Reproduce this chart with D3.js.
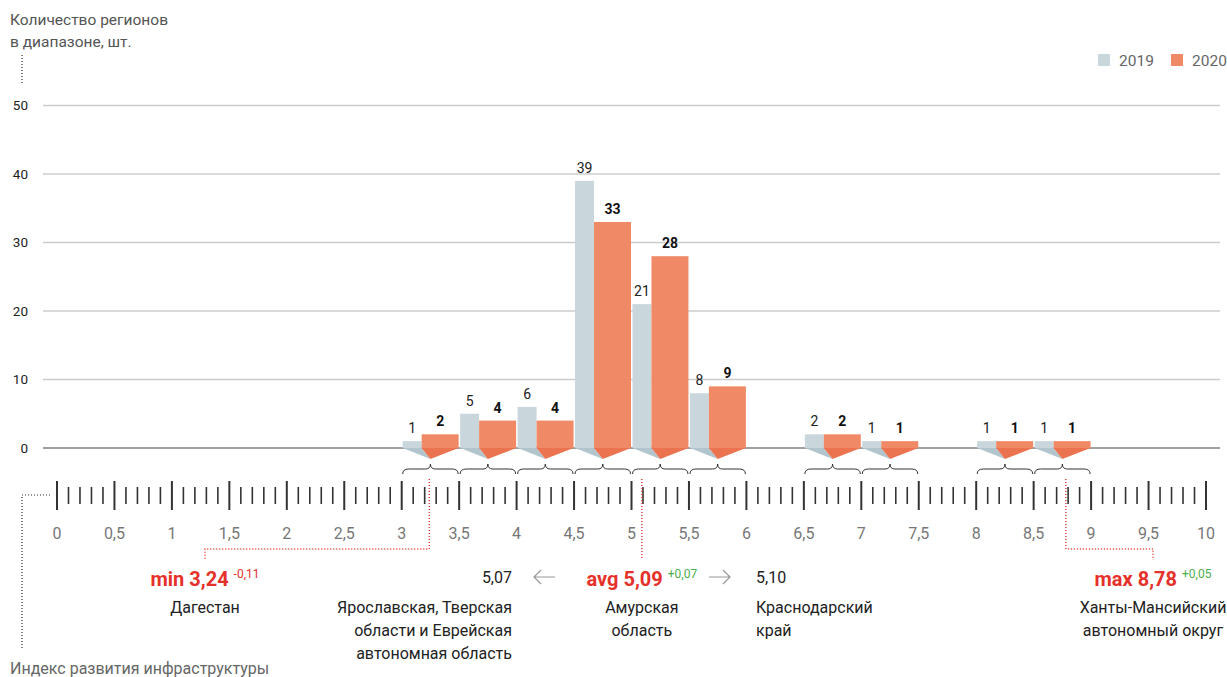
<!DOCTYPE html>
<html lang="ru">
<head>
<meta charset="utf-8">
<script src="https://cdn.jsdelivr.net/npm/d3@7/dist/d3.min.js"></script>
<style>
  html, body { margin: 0; padding: 0; background: #fff; }
  svg { display: block; font-family: Roboto, "Noto Sans", sans-serif; }
</style>
</head>
<body>
<svg id="chart" width="1227" height="677"></svg>
<script>
// Distribution of regions by infrastructure development index, 2019 vs 2020
const binStarts  = [3, 3.5, 4, 4.5, 5, 5.5, 6.5, 7, 8, 8.5];
const binSize    = 0.5;
const counts2019 = [1, 5, 6, 39, 21, 8, 2, 1, 1, 1];
const counts2020 = [2, 4, 4, 33, 28, 9, 2, 1, 1, 1];
const seriesNames = ["2019", "2020"];
const yTickValues = [0, 10, 20, 30, 40, 50];
const xLabelValues = [0, 0.5, 1, 1.5, 2, 2.5, 3, 3.5, 4, 4.5, 5, 5.5, 6, 6.5, 7, 7.5, 8, 8.5, 9, 9.5, 10];

// Highlighted regions: kind, index value, change vs previous year, region name lines
const markerKinds   = ["min", "avg", "max"];
const markerValues  = [3.24, 5.09, 8.78];
const markerChanges = ["-0,11", "+0,07", "+0,05"];
const markerRegions = [["Дагестан"], ["Амурская", "область"], ["Ханты-Мансийский", "автономный округ"]];
const neighbourValues  = ["5,07", "5,10"];
const neighbourRegions = [["Ярославская, Тверская", "области и Еврейская", "автономная область"], ["Краснодарский", "край"]];

const C = {
  c2019: "#c9d6dc", c2019dark: "#b2c5cc",
  c2020: "#f08a66", c2020dark: "#ec7350",
  grid: "#cccccc", ink: "#222", muted: "#666", red: "#e5312a", green: "#4cae4c"
};

const svg = d3.select("#chart");
const fmt = v => String(v).replace(".", ",");

const x = d3.scaleLinear().domain([0, 10]).range([57, 1206]);
const y = d3.scaleLinear().domain([0, 50]).range([448, 105.5]);

// Axis titles
svg.append("text").attr("x", 10).attr("y", 25).attr("font-size", 15.5).attr("fill", "#555").text("Количество регионов");
svg.append("text").attr("x", 10).attr("y", 47).attr("font-size", 15.5).attr("fill", "#555").text("в диапазоне, шт.");
svg.append("line").attr("x1", 22).attr("x2", 22).attr("y1", 55).attr("y2", 84)
  .attr("stroke", "#333").attr("stroke-width", 1.2).attr("stroke-dasharray", "1,2");

svg.append("text").attr("x", 10).attr("y", 674).attr("font-size", 16).attr("fill", "#666").text("Индекс развития инфраструктуры");
svg.append("path").attr("d", "M50,495 H22 V648")
  .attr("fill", "none").attr("stroke", "#333").attr("stroke-width", 1.2).attr("stroke-dasharray", "1,2");

// Legend
const legend = svg.append("g");
[[C.c2019, 1098, 1119], [C.c2020, 1171, 1192]].forEach(([col, sx, tx], i) => {
  legend.append("rect").attr("x", sx).attr("y", 54).attr("width", 12).attr("height", 12).attr("fill", col);
  legend.append("text").attr("x", tx).attr("y", 65.5).attr("font-size", 15.5).attr("fill", C.muted).text(seriesNames[i]);
});

// Horizontal grid with value labels
const gridG = svg.append("g");
yTickValues.forEach(v => {
  gridG.append("line").attr("x1", 43).attr("x2", 1220).attr("y1", y(v)).attr("y2", y(v))
    .attr("stroke", v === 0 ? "#444" : C.grid).attr("stroke-width", v === 0 ? 1.2 : 1.3);
  gridG.append("text").attr("x", 28).attr("y", y(v) + 4.5).attr("text-anchor", "end")
    .attr("font-size", 13.5).attr("fill", C.ink).text(v);
});

// Bars, the folded flaps beneath them and braces marking each bin
const bins = binStarts.map((s, i) => ({ s, e: s + binSize, a: counts2019[i], b: counts2020[i] }));
const barsG = svg.append("g");
bins.forEach(d => {
  const x0 = x(d.s), x1 = x(d.e), w = x1 - x0, xm = (x0 + x1) / 2;
  const gx0 = x0 + 1, gx1 = x0 + 1 + w * 0.33, ox1 = x1 - 0.5;
  const base = y(0), tip = base + 11;

  barsG.append("rect").attr("x", gx0).attr("y", y(d.a)).attr("width", gx1 - gx0).attr("height", base - y(d.a)).attr("fill", C.c2019);
  barsG.append("rect").attr("x", gx1).attr("y", y(d.b)).attr("width", ox1 - gx1).attr("height", base - y(d.b)).attr("fill", C.c2020);

  barsG.append("path").attr("d", `M${gx0},${base} L${gx1},${base} L${xm},${tip} Z`).attr("fill", C.c2019dark);
  barsG.append("path").attr("d", `M${gx1},${base} L${ox1},${base} L${xm},${tip} Z`).attr("fill", C.c2020dark);

  barsG.append("text").attr("x", (gx0 + gx1) / 2).attr("y", y(d.a) - 8).attr("text-anchor", "middle")
    .attr("font-size", 14).attr("fill", C.ink).text(d.a);
  barsG.append("text").attr("x", (gx1 + ox1) / 2).attr("y", y(d.b) - 8).attr("text-anchor", "middle")
    .attr("font-size", 14).attr("font-weight", 700).attr("fill", "#111").text(d.b);

  const ye = 474, yh = 469, yt = 464;
  barsG.append("path")
    .attr("d", `M${x0 + 1},${ye} Q${x0 + 1},${yh} ${x0 + 7},${yh} L${xm - 5},${yh} Q${xm},${yh} ${xm},${yt} Q${xm},${yh} ${xm + 5},${yh} L${x1 - 7},${yh} Q${x1 - 1},${yh} ${x1 - 1},${ye}`)
    .attr("fill", "none").attr("stroke", "#333").attr("stroke-width", 1);
});

// Ruler-style index axis
const ruler = svg.append("g");
d3.range(0, 101).forEach(k => {
  const v = k / 10, major = k % 5 === 0;
  ruler.append("line").attr("x1", x(v)).attr("x2", x(v))
    .attr("y1", major ? 481 : 487).attr("y2", major ? 510 : 504)
    .attr("stroke", "#333").attr("stroke-width", major ? 2 : 1.6);
});
xLabelValues.forEach(v => {
  ruler.append("text").attr("x", x(v)).attr("y", 539).attr("text-anchor", "middle")
    .attr("font-size", 16).attr("fill", "#777").text(fmt(v));
});

// Min / avg / max call-outs
const calloutCentres = [205, null, 1153];
const notes = svg.append("g");
markerKinds.forEach((kind, i) => {
  const mx = x(markerValues[i]);
  const cx = calloutCentres[i] === null ? mx : calloutCentres[i];
  const dash = { stroke: C.red, "stroke-width": 1.4, "stroke-dasharray": "1,2", fill: "none" };
  const p = notes.append("path").attr("d", cx === mx ? `M${mx},479 V560` : `M${mx},479 V549 H${cx} V560`);
  Object.entries(dash).forEach(([k, v]) => p.attr(k, v));

  const t = notes.append("text").attr("x", cx).attr("y", 586).attr("text-anchor", "middle");
  t.append("tspan").attr("font-size", 20).attr("font-weight", 700).attr("fill", C.red)
    .text(`${kind} ${fmt(markerValues[i])} `);
  t.append("tspan").attr("font-size", 12).attr("dy", -8)
    .attr("fill", markerChanges[i].startsWith("-") ? C.red : C.green).text(markerChanges[i]);

  markerRegions[i].forEach((line, j) => {
    notes.append("text").attr("x", cx).attr("y", 613 + j * 23).attr("text-anchor", "middle")
      .attr("font-size", 16).attr("fill", C.ink).text(line);
  });
});

// Neighbours of the average: value just below and just above
const nbX = [512, 756];
const nbAnchor = ["end", "start"];
neighbourValues.forEach((val, i) => {
  notes.append("text").attr("x", nbX[i]).attr("y", 583).attr("text-anchor", nbAnchor[i])
    .attr("font-size", 16).attr("fill", C.ink).text(val);
  neighbourRegions[i].forEach((line, j) => {
    notes.append("text").attr("x", nbX[i]).attr("y", 613 + j * 23).attr("text-anchor", nbAnchor[i])
      .attr("font-size", 16).attr("fill", C.ink).text(line);
  });
});
// Arrows pointing from the average to its neighbours
[[555, 534], [709, 730]].forEach(([from, to]) => {
  const dir = Math.sign(to - from);
  notes.append("path")
    .attr("d", `M${from},577 H${to} M${to - dir * 7},570 L${to},577 L${to - dir * 7},584`)
    .attr("fill", "none").attr("stroke", "#999").attr("stroke-width", 1.2);
});
</script>
</body>
</html>
